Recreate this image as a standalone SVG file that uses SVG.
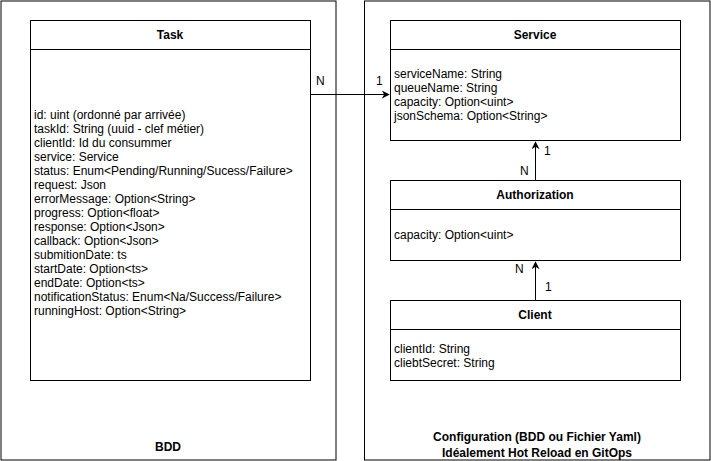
<svg xmlns="http://www.w3.org/2000/svg" width="711" height="461" viewBox="0 0 711 461">
<style>
.box{fill:#fff;stroke:#000;stroke-width:1}
.t{font-family:"Liberation Sans",Arial,sans-serif;font-size:12px;fill:#000}
.b{font-weight:bold;text-anchor:middle}
.c{stroke:#000;stroke-width:1;fill:none}
</style>
<defs>
<marker id="arr" viewBox="0 0 10 10" refX="9" refY="5" markerWidth="8" markerHeight="8" markerUnits="userSpaceOnUse" orient="auto">
<path d="M0,0 L10,5 L0,10 L3,5 Z" fill="#000"/>
</marker>
</defs>
<g id="bdd">
<rect class="box" x="1" y="1" width="335" height="459"/>
<text class="t b" x="168" y="451">BDD</text>
</g>
<g id="config">
<rect class="box" x="364.5" y="1" width="345.5" height="459"/>
<text class="t b" x="537" y="441">Configuration (BDD ou Fichier Yaml)</text>
<text class="t b" x="537" y="457">Idéalement Hot Reload en GitOps</text>
</g>
<g id="task">
<rect class="box" x="30.5" y="20.5" width="280" height="360"/>
<line class="c" x1="30.5" y1="49.5" x2="310.5" y2="49.5"/>
<text class="t b" x="170" y="39">Task</text>
<text class="t" x="34" y="119">id: uint (ordonné par arrivée)</text>
<text class="t" x="34" y="133">taskId: String (uuid - clef métier)</text>
<text class="t" x="34" y="147">clientId: Id du consummer</text>
<text class="t" x="34" y="161">service: Service</text>
<text class="t" x="34" y="175">status: Enum&lt;Pending/Running/Sucess/Failure&gt;</text>
<text class="t" x="34" y="189">request: Json</text>
<text class="t" x="34" y="203">errorMessage: Option&lt;String&gt;</text>
<text class="t" x="34" y="217">progress: Option&lt;float&gt;</text>
<text class="t" x="34" y="231">response: Option&lt;Json&gt;</text>
<text class="t" x="34" y="245">callback: Option&lt;Json&gt;</text>
<text class="t" x="34" y="259">submitionDate: ts</text>
<text class="t" x="34" y="273">startDate: Option&lt;ts&gt;</text>
<text class="t" x="34" y="287">endDate: Option&lt;ts&gt;</text>
<text class="t" x="34" y="301">notificationStatus: Enum&lt;Na/Success/Failure&gt;</text>
<text class="t" x="34" y="315">runningHost: Option&lt;String&gt;</text>
</g>
<g id="service">
<rect class="box" x="390.5" y="20.5" width="290" height="120"/>
<line class="c" x1="390.5" y1="49.5" x2="680.5" y2="49.5"/>
<text class="t b" x="535" y="39">Service</text>
<text class="t" x="394" y="78">serviceName: String</text>
<text class="t" x="394" y="92">queueName: String</text>
<text class="t" x="394" y="106">capacity: Option&lt;uint&gt;</text>
<text class="t" x="394" y="120">jsonSchema: Option&lt;String&gt;</text>
</g>
<g id="authorization">
<rect class="box" x="390.5" y="180.5" width="290" height="80"/>
<line class="c" x1="390.5" y1="209.5" x2="680.5" y2="209.5"/>
<text class="t b" x="535" y="199">Authorization</text>
<text class="t" x="394" y="239">capacity: Option&lt;uint&gt;</text>
</g>
<g id="client">
<rect class="box" x="390.5" y="300.5" width="290" height="80"/>
<line class="c" x1="390.5" y1="329.5" x2="680.5" y2="329.5"/>
<text class="t b" x="535" y="319">Client</text>
<text class="t" x="394" y="353">clientId: String</text>
<text class="t" x="394" y="367">cliebtSecret: String</text>
</g>
<g id="connectors">
<line class="c" x1="310.5" y1="94.5" x2="389" y2="94.5" marker-end="url(#arr)"/>
<text class="t" x="316" y="85">N</text>
<text class="t" x="376" y="85">1</text>
<line class="c" x1="535.5" y1="180.5" x2="535.5" y2="142" marker-end="url(#arr)"/>
<text class="t" x="544" y="155">1</text>
<text class="t" x="520" y="175">N</text>
<line class="c" x1="535.5" y1="300.5" x2="535.5" y2="262" marker-end="url(#arr)"/>
<text class="t" x="515" y="273">N</text>
<text class="t" x="545" y="291">1</text>
</g>
</svg>
